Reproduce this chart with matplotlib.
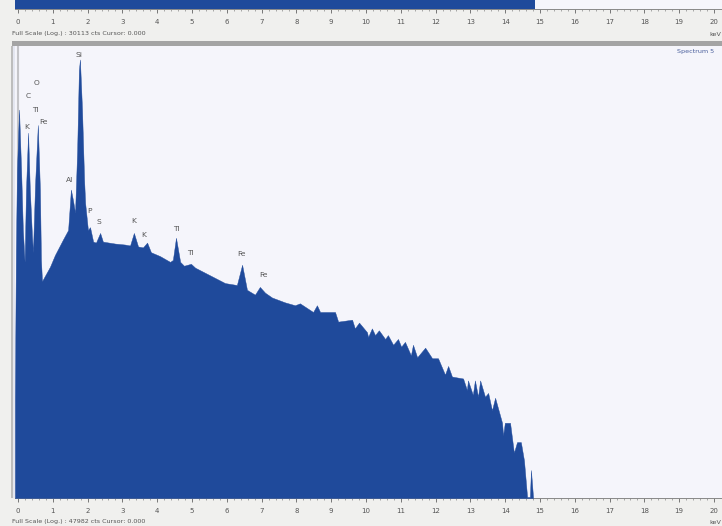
import matplotlib
matplotlib.use('Agg')
import matplotlib.pyplot as plt
from matplotlib.patches import Rectangle

# energy in keV, height as log10(counts)
energy_kev = [-0.09, -0.06, -0.03, 0.03, 0.09, 0.14, 0.19, 0.23, 0.29, 0.34, 0.40, 0.43, 0.49, 0.57,
              0.63, 0.66, 0.69, 0.92, 1.06, 1.29, 1.44, 1.49, 1.52, 1.58, 1.64, 1.70, 1.75, 1.78,
              1.84, 1.90, 1.93, 2.01, 2.07, 2.16,
              2.24, 2.36, 2.44, 2.79, 3.07, 3.22, 3.33, 3.45, 3.59, 3.71, 3.82, 4.08, 4.37, 4.45,
              4.54, 4.66, 4.77, 4.97, 5.09, 5.52, 5.95, 6.29, 6.44, 6.58, 6.81, 6.95, 7.10, 7.30,
              7.67, 7.96, 8.10, 8.48, 8.59, 8.68, 9.11, 9.20, 9.60, 9.68, 9.80, 10.03, 10.06, 10.17,
              10.26, 10.37, 10.55, 10.63, 10.78, 10.92, 11.01, 11.12, 11.29, 11.35, 11.47, 11.70,
              11.90, 12.07, 12.27, 12.36, 12.47, 12.79, 12.90, 12.93, 13.07, 13.13, 13.22, 13.28,
              13.42, 13.51, 13.62, 13.71, 13.91, 13.94, 13.99, 14.14, 14.25, 14.34, 14.45, 14.54,
              14.63, 14.71, 14.74, 14.80]
log_counts = [1.02, 2.57, 3.40, 4.03, 3.40, 2.78, 2.45, 3.20, 3.79, 3.20, 2.73, 2.55, 3.25, 3.87,
              3.20, 2.47, 2.25, 2.40, 2.52, 2.68, 2.78, 3.04, 3.20, 3.09, 2.96, 3.61, 4.44, 4.55,
              4.03, 3.30, 3.06, 2.78, 2.81, 2.66,
              2.65, 2.75, 2.66, 2.64, 2.63, 2.62, 2.75, 2.61, 2.60, 2.65, 2.55, 2.51, 2.45, 2.47,
              2.70, 2.45, 2.41, 2.43, 2.39, 2.31, 2.23, 2.21, 2.42, 2.16, 2.11, 2.19, 2.13, 2.08,
              2.03, 2.00, 2.02, 1.93, 2.00, 1.93, 1.93, 1.83, 1.85, 1.76, 1.82, 1.72, 1.67, 1.76,
              1.69, 1.74, 1.65, 1.69, 1.59, 1.65, 1.57, 1.62, 1.48, 1.59, 1.46, 1.56,
              1.45, 1.45, 1.28, 1.37, 1.26, 1.24, 1.12, 1.22, 1.07, 1.22, 1.05, 1.22,
              1.05, 1.09, 0.91, 1.04, 0.78, 0.65, 0.78, 0.78, 0.47, 0.58, 0.58, 0.39,
              0.01, 0.01, 0.29, 0.01]

# upper spectrum: only its bottom strip is visible, filled up to about 15 keV
top_energy = [-0.09, 14.87]
top_level = [1, 1]

tick_labels = [str(i) for i in range(21)]
status_top = 'Full Scale (Log.) : 30113 cts Cursor: 0.000'
status_bottom = 'Full Scale (Log.) : 47982 cts Cursor: 0.000'

peak_names = ['Si', 'O', 'C', 'Ti', 'Fe', 'K', 'Al', 'P', 'S', 'K', 'K', 'Ti', 'Ti', 'Fe', 'Fe']
peak_px = [(79, 55), (37, 83), (28, 96), (35, 110), (43, 122), (27, 127), (70, 180), (89, 211),
           (99, 222), (134, 221), (144, 235), (176, 229), (190, 253), (242, 254), (264, 275)]

W, H = 722, 526
BLUE = '#1f4a9b'
PANEL = '#f5f5fb'
GREY_BG = '#f0f0ee'
TXT = '#555555'

fig = plt.figure(figsize=(W / 100, H / 100), dpi=100, facecolor=GREY_BG)


def px_axes(left, top, right, bottom):
    return fig.add_axes([left / W, 1 - bottom / H, (right - left) / W, (bottom - top) / H])


def px_text(x, y, s, size=4.6, **kw):
    fig.text(x / W, 1 - y / H, s, va='center', color=TXT, fontsize=size, **kw)


def setup_axis(ax):
    ax.set_facecolor(PANEL)
    ax.set_xlim(-0.086, 20.23)
    ax.set_xticks(range(21))
    ax.set_xticks([i * 0.2 for i in range(101)], minor=True)
    ax.set_xticklabels(tick_labels)
    ax.tick_params(axis='x', which='major', length=3, width=0.7, color='#777777',
                   labelsize=5, labelcolor=TXT, pad=4)
    ax.tick_params(axis='x', which='minor', length=1.5, width=0.5, color='#888888')
    ax.set_yticks([])
    for name in ['top', 'left', 'right']:
        ax.spines[name].set_visible(False)
    ax.spines['bottom'].set_color('#888888')
    ax.spines['bottom'].set_linewidth(0.7)
    ax.spines['bottom'].set_linestyle((0, (2, 1)))


ax_top = px_axes(15, 0, 722, 9)
setup_axis(ax_top)
ax_top.fill_between(top_energy, 0, top_level, color=BLUE, linewidth=0)
ax_top.set_ylim(0, 1)

ax = px_axes(15, 46, 722, 498)
setup_axis(ax)
ax.axvline(0, color='#c4c4c8', linewidth=1.5)
ax.fill_between(energy_kev, 0, log_counts, color=BLUE, linewidth=0.3, zorder=3)
ax.set_ylim(0, 4.69)

# grey frame bits around the panels
fig.patches.append(Rectangle((12 / W, 1 - 41 / H), 710 / W, -5 / H, transform=fig.transFigure,
                             facecolor='#a4a4a4', edgecolor='none'))
fig.patches.append(Rectangle((11 / W, 1 - 498 / H), 2 / W, 452 / H, transform=fig.transFigure,
                             facecolor='#bdbdbd', edgecolor='none'))
fig.patches.append(Rectangle((13 / W, 1 - 498 / H), 2 / W, 452 / H, transform=fig.transFigure,
                             facecolor='#e4e6f0', edgecolor='none'))

px_text(12, 34, status_top, ha='left')
px_text(12, 522, status_bottom, ha='left')
px_text(709, 34, 'keV', ha='left')
px_text(709, 522, 'keV', ha='left')
fig.text(677 / W, 1 - 52 / H, 'Spectrum 5', va='center', ha='left', color='#4a5f9c', fontsize=4.6)

for name, (x, y) in zip(peak_names, peak_px):
    px_text(x, y, name, size=5.4, ha='center')

fig.savefig('out.png', dpi=100, facecolor=GREY_BG)
